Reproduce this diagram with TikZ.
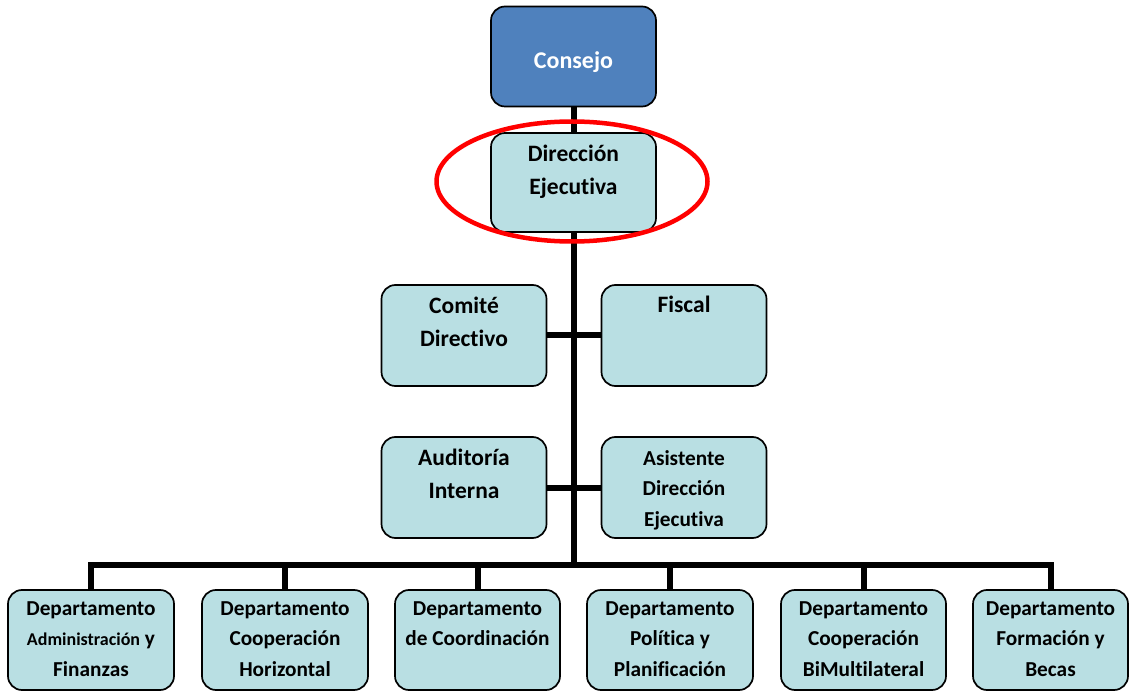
\documentclass[tikz,border=0pt]{standalone}
\usepackage{fontspec}
\setmainfont{Carlito}[Ligatures=NoCommon]
\usetikzlibrary{backgrounds,shapes.geometric}
\definecolor{topblue}{HTML}{4F81BD}
\definecolor{boxfill}{HTML}{B9DFE3}
\newcommand\boxtxt[4]{\parbox[c][#2][t]{#1}{\centering\rule{0pt}{#3}#4}}
\tikzset{
  orgbox/.style={draw=black, line width=1.7pt, rounded corners=14pt, fill=boxfill, inner sep=0pt,
    font=\bfseries\fontsize{23.5}{33}\selectfont},
  topbox/.style={orgbox, fill=topblue, text=white, font=\bfseries\fontsize{24}{33}\selectfont},
  deptbox/.style={orgbox, font=\bfseries\fontsize{21.3}{30.5}\selectfont},
  smallbox/.style={orgbox, font=\bfseries\fontsize{21.3}{30.5}\selectfont},
  link/.style={line width=6pt, draw=black},
  oval/.style={ellipse, draw=red, line width=4.5pt, inner sep=0pt, minimum width=271pt, minimum height=120pt}
}
\begin{document}
\begin{tikzpicture}[x=1pt,y=-1pt]
\useasboundingbox (0,0) rectangle (1130,692);
% upper boxes
\node[topbox] (consejo) at (573.5,56.5) {\boxtxt{165pt}{100pt}{62pt}{Consejo}};
\node[orgbox] (dir) at (573.5,182.5) {\boxtxt{165pt}{99pt}{29pt}{Dirección\\Ejecutiva}};
\node[orgbox] (comite) at (464,335.5) {\boxtxt{165pt}{101pt}{29pt}{Comité\\Directivo}};
\node[orgbox] (fiscal) at (684,335.5) {\boxtxt{165pt}{101pt}{28pt}{Fiscal}};
\node[orgbox] (audit) at (464,487.5) {\boxtxt{165pt}{101pt}{28pt}{Auditoría\\Interna}};
\node[smallbox] (asist) at (684,487.5) {\boxtxt{165pt}{101pt}{28pt}{Asistente\\Dirección\\Ejecutiva}};
% departments
\node[deptbox] (b1) at (91,640) {\boxtxt{166pt}{100pt}{25pt}{Departamento\\{\fontsize{18}{30.5}\selectfont Administración} y\\Finanzas}};
\node[deptbox] (b2) at (285,640) {\boxtxt{166pt}{100pt}{25pt}{Departamento\\Cooperación\\Horizontal}};
\node[deptbox] (b3) at (477.5,640) {\boxtxt{165pt}{100pt}{25pt}{Departamento\\de Coordinación}};
\node[deptbox] (b4) at (670,640) {\boxtxt{166pt}{100pt}{25pt}{Departamento\\Política y\\Planificación}};
\node[deptbox] (b5) at (863.5,640) {\boxtxt{165pt}{100pt}{25pt}{Departamento\\Cooperación\\BiMultilateral}};
\node[deptbox] (b6) at (1050.5,640) {\boxtxt{155pt}{100pt}{25pt}{Departamento\\Formación y\\Becas}};
\coordinate (bus) at (573.5,565);
\begin{scope}[on background layer]
  \draw[link] (consejo.south) -- (dir.north);
  \draw[link] (dir.south) -- (bus);
  \draw[link] (comite.east) -- (fiscal.west);
  \draw[link] (audit.east) -- (asist.west);
  \draw[link] (b1.north) -- (b1.north |- bus) -- (b6.north |- bus) -- (b6.north);
  \foreach \b in {b2,b3,b4,b5} \draw[link] (\b.north) -- (\b.north |- bus);
\end{scope}
\node[oval] (mark) at (572,181.5) {};
\end{tikzpicture}
\end{document}
